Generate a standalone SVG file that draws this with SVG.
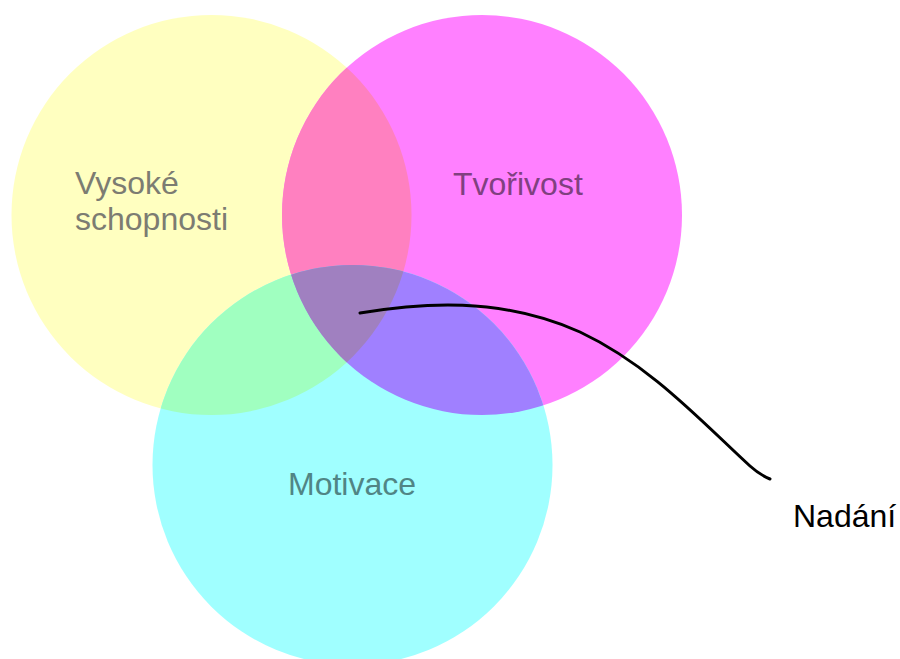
<svg xmlns="http://www.w3.org/2000/svg" width="900" height="659" viewBox="0 0 900 659">
  <style>
    .lbl { font-family: "Liberation Sans", Arial, sans-serif; font-size: 32px; }
    .lbl2 { font-family: "Liberation Sans", Arial, sans-serif; font-size: 32px; fill: #000; }
    .conn { fill: none; stroke: #000; stroke-width: 3; stroke-linecap: round; stroke-linejoin: round; }
  </style>
  <defs>
    <clipPath id="clipY"><circle cx="211.5" cy="215" r="200"/></clipPath>
    <clipPath id="clipM"><circle cx="482" cy="215" r="200"/></clipPath>
  </defs>
  <rect width="900" height="659" fill="#fff"/>

  <g id="node-vysoke">
    <circle cx="211.5" cy="215" r="200" fill="#FFFFC0"/>
  </g>
  <g id="node-tvorivost">
    <circle cx="482" cy="215" r="200" fill="#FF80FF"/>
  </g>
  <g id="node-motivace">
    <circle cx="352.5" cy="465" r="200" fill="#A0FFFF"/>
  </g>

  <g id="overlaps">
    <circle cx="482" cy="215" r="200" fill="#FF80C0" clip-path="url(#clipY)"/>
    <circle cx="352.5" cy="465" r="200" fill="#A0FFC0" clip-path="url(#clipY)"/>
    <circle cx="352.5" cy="465" r="200" fill="#A080FF" clip-path="url(#clipM)"/>
    <g clip-path="url(#clipM)">
      <circle cx="352.5" cy="465" r="200" fill="#A080C0" clip-path="url(#clipY)"/>
    </g>
  </g>

  <g id="labels">
    <text class="lbl" x="75" y="194" fill="#7C7C72">Vysoké</text>
    <text class="lbl" x="75" y="230" fill="#7C7C72">schopnosti</text>
    <text class="lbl" x="453" y="195" fill="#804080">Tvořivost</text>
    <text class="lbl" x="288" y="495" fill="#508585">Motivace</text>
  </g>

  <g id="connectors">
    <path class="conn" d="M360,313 C420,303 500,296 580,332 C650,365 700,420 750,466 Q760,475 770,479"/>
  </g>

  <g id="node-nadani">
    <text class="lbl2" x="793" y="527">Nadání</text>
  </g>
</svg>
